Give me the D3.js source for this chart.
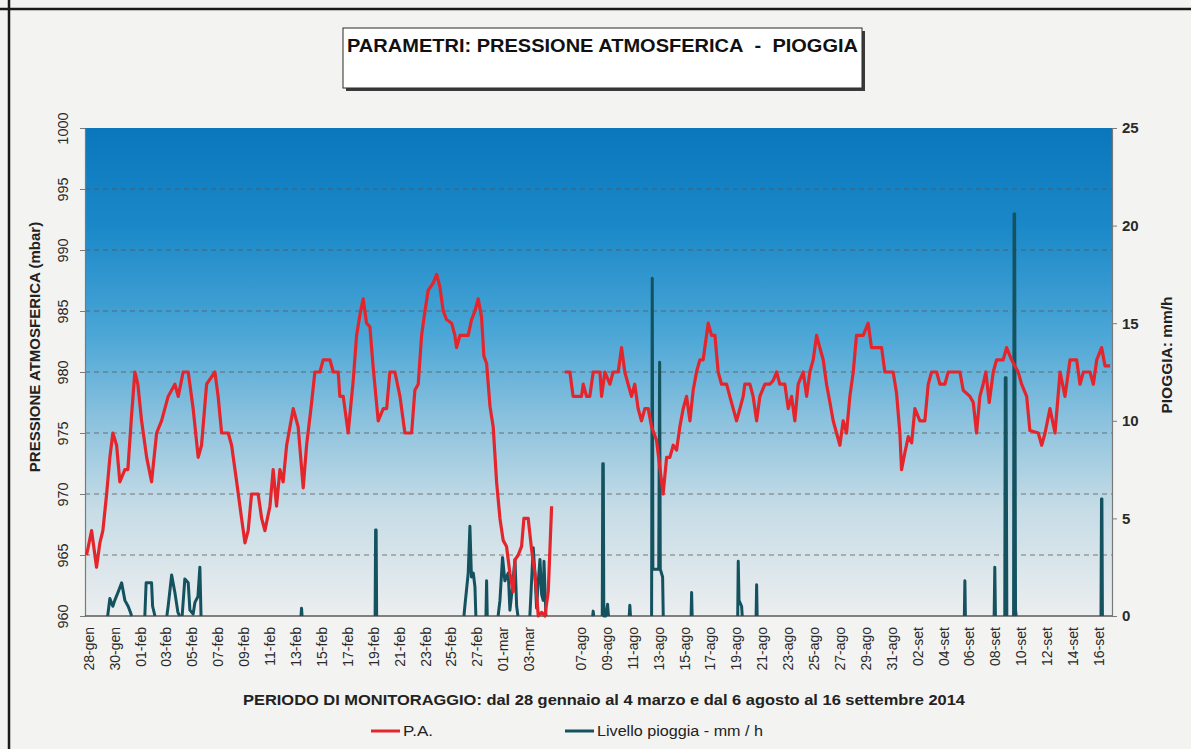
<!DOCTYPE html>
<html><head><meta charset="utf-8">
<script src="https://cdn.jsdelivr.net/npm/d3@7"></script>
<style>
body{margin:0;background:#f3f3f1;}
svg{display:block;font-family:Arial,"Liberation Sans",sans-serif;}
</style>
</head><body>
<svg id="chart" width="1191" height="749"></svg>
<script>
// ---------- DATA ----------
const chartTitle = "PARAMETRI: PRESSIONE ATMOSFERICA\u00a0\u00a0-\u00a0\u00a0PIOGGIA";
const xTitle = "PERIODO DI MONITORAGGIO: dal 28 gennaio al 4 marzo e dal 6 agosto al 16 settembre 2014";
const yLeftTitle = "PRESSIONE ATMOSFERICA (mbar)";
const yRightTitle = "PIOGGIA: mm/h";
const seriesNames = ["P.A.", "Livello pioggia - mm / h"];

const pressureTicks = [960, 965, 970, 975, 980, 985, 990, 995, 1000];
const rainTicks = [0, 5, 10, 15, 20, 25];

// tick labels: period 1 (every 2 days from 28-gen), period 2 (every 2 days from 07-ago)
const xLabelsFebMar = ["28-gen","30-gen","01-feb","03-feb","05-feb","07-feb","09-feb","11-feb","13-feb","15-feb","17-feb","19-feb","21-feb","23-feb","25-feb","27-feb","01-mar","03-mar"];
const xLabelsAgoSet = ["07-ago","09-ago","11-ago","13-ago","15-ago","17-ago","19-ago","21-ago","23-ago","25-ago","27-ago","29-ago","31-ago","02-set","04-set","06-set","08-set","10-set","12-set","14-set","16-set"];

// pressure [days from 28-gen 00:00, mbar]
const paFebMar = [[-0.18,965],[0.21,967],[0.59,964],[0.85,966],[1.08,967],[1.37,970],[1.62,973],[1.85,975],[2.14,974],[2.39,971],[2.78,972],[3.01,972],[3.30,976.5],[3.55,980],[3.78,979],[4.07,976],[4.46,973],[4.84,971],[5.23,975],[5.61,976],[6.12,978],[6.64,979],[6.90,978],[7.28,980],[7.67,980],[8.05,977],[8.44,973],[8.70,974],[9.09,979],[9.73,980],[9.98,978],[10.25,975],[10.76,975],[11.02,974],[11.41,971],[11.79,968],[12.05,966],[12.30,967],[12.56,970],[13.07,970],[13.34,968],[13.59,967],[13.98,969],[14.23,972],[14.49,969],[14.75,972],[15.00,971],[15.27,974],[15.78,977],[16.16,975.5],[16.55,970.5],[16.81,974],[17.20,977.5],[17.45,980],[17.84,980],[18.09,981],[18.61,981],[18.87,980],[19.25,980],[19.38,978],[19.64,978],[20.02,975],[20.41,979.3],[20.67,983],[20.93,984.7],[21.18,986],[21.44,984],[21.70,983.7],[21.95,980.4],[22.34,976],[22.73,977],[22.99,977],[23.24,980],[23.63,980],[24.02,978],[24.40,975],[24.92,975],[25.17,978.5],[25.43,979],[25.69,983],[25.95,985],[26.20,986.7],[26.59,987.3],[26.85,988],[27.10,987],[27.36,985],[27.62,984.3],[28.01,984],[28.26,983],[28.39,982],[28.65,983],[29.29,983],[29.55,984.3],[29.81,985],[30.06,986],[30.32,984.5],[30.50,981.3],[30.71,980.7],[30.97,977.2],[31.22,975.5],[31.48,971],[31.74,968],[31.99,966.2],[32.25,965.7],[32.51,963.5],[32.76,962],[32.90,964.6],[33.15,965],[33.41,965.7],[33.59,968],[33.92,968],[34.19,965.4],[34.44,963.5],[34.70,960],[34.96,960.3],[35.21,960],[35.47,962],[35.73,969]];

// pressure [days from 06-ago 00:00, mbar]
const paAgoSet = [[-0.25,980],[0.14,980],[0.39,978],[1.04,978],[1.17,979],[1.43,978],[1.68,978],[1.94,980],[2.46,980],[2.59,978],[2.84,980],[3.23,979],[3.48,980],[3.87,980],[4.13,982],[4.38,980],[4.64,979],[4.90,978],[5.15,979],[5.41,977],[5.67,976],[5.93,977],[6.19,977],[6.45,975.5],[6.83,974.4],[7.34,970],[7.61,973],[7.86,973],[8.12,974],[8.38,973.6],[8.63,975.5],[8.89,977],[9.15,978],[9.41,976],[9.66,978.5],[9.92,980],[10.18,981],[10.43,981],[10.82,984],[11.08,983],[11.34,983],[11.59,980],[11.85,979],[12.24,979],[12.49,978],[12.75,977],[13.01,976],[13.27,977],[13.52,978],[13.65,979],[14.04,979],[14.29,978],[14.56,976],[14.81,978],[15.20,979],[15.58,979],[15.84,979.3],[16.10,980],[16.35,979],[16.74,979],[17.00,977],[17.26,978],[17.51,976],[17.77,979],[18.16,980],[18.42,978],[18.67,980],[18.93,981],[19.19,983],[19.44,982],[19.70,981],[19.96,979],[20.22,977.5],[20.47,976],[20.73,975],[20.99,974],[21.24,976],[21.50,975],[21.76,978],[22.02,980],[22.27,983],[22.79,983],[23.17,984],[23.43,982],[24.21,982],[24.46,980],[25.10,980],[25.36,978.3],[25.62,975],[25.75,972],[26.01,973.4],[26.27,974.7],[26.53,974.2],[26.78,977],[27.17,976],[27.55,976],[27.81,979],[28.07,980],[28.46,980],[28.71,979],[29.10,979],[29.35,980],[30.26,980],[30.51,978.5],[31.03,978],[31.29,977.5],[31.54,975],[31.80,978],[32.05,979],[32.26,980],[32.52,977.5],[32.83,980],[33.09,981],[33.60,981],[33.86,982],[34.25,981],[34.50,980.5],[34.76,980],[35.02,979],[35.41,978],[35.66,975.2],[36.31,975],[36.57,974],[36.83,975],[37.21,977],[37.60,975],[37.99,980],[38.37,978],[38.76,981],[39.27,981],[39.53,979],[39.79,980],[40.30,980],[40.56,979],[40.82,981],[41.20,982],[41.46,980.5],[41.85,980.5]];

// rain [days from 28-gen, mm/h]; null = no line
const rainFebMar = [[1.45,0],[1.62,0.9],[1.85,0.5],[2.0,0.8],[2.24,1.2],[2.53,1.7],[2.78,0.8],[3.03,0.5],[3.2,0.2],[3.3,0],[3.35,null],
[4.32,0],[4.42,1.7],[4.84,1.7],[4.92,0.5],[5.1,0],[5.2,null],
[6.02,0],[6.12,0.5],[6.39,2.1],[6.64,1.2],[6.87,0.2],[7.0,0],[7.1,null],
[7.2,0],[7.41,1.9],[7.67,1.7],[7.8,0.3],[8.05,0.1],[8.19,0.7],[8.42,1.0],[8.57,2.5],[8.66,0],[8.7,null],
[16.38,0],[16.42,0.4],[16.46,0],[16.5,null],
[22.1,0],[22.14,4.4],[22.18,4.4],[22.22,0],[22.3,null],
[28.96,0],[29.03,0.5],[29.29,2.2],[29.42,4.6],[29.54,2.0],[29.68,2.2],[29.81,1.5],[29.88,0],[29.95,null],
[30.66,0],[30.71,1.8],[30.76,0],[30.8,null],
[31.6,0],[31.74,0.8],[31.94,3.0],[32.12,1.8],[32.38,2.2],[32.51,0.3],[32.66,1.2],[32.9,2.9],[33.03,0.5],[33.13,0],[33.2,null],
[34.05,0],[34.31,3.5],[34.44,2.2],[34.57,0.4],[34.67,1.5],[34.83,2.9],[34.96,1.1],[35.08,0.8],[35.14,2.8],[35.29,0]];

// rain [days from 06-ago, mm/h]
const rainAgoSet = [[1.9,0],[1.94,0.25],[1.98,0],[2.0,null],
[2.64,0],[2.68,7.8],[2.72,7.8],[2.76,0],[2.9,0],[3.05,0.6],[3.12,0],[3.2,null],
[4.72,0],[4.77,0.55],[4.82,0],[4.9,null],
[6.45,0],[6.50,17.3],[6.55,2.4],[7.0,2.4],[7.07,13.0],[7.12,2.4],[7.3,2.0],[7.35,0],[7.4,null],
[9.5,0],[9.54,1.2],[9.58,0],[9.6,null],
[13.1,0],[13.14,2.8],[13.2,0.8],[13.4,0.5],[13.45,0],[13.5,null],
[14.52,0],[14.56,1.6],[14.6,0],[14.7,null],
[30.6,0],[30.64,1.8],[30.68,0],[30.7,null],
[32.9,0],[32.95,2.5],[33.0,0],[33.1,null],
[33.72,0],[33.76,12.2],[33.82,12.2],[33.88,0],[33.95,null],
[34.40,0],[34.44,20.6],[34.48,20.6],[34.55,0.3],[34.6,0],[34.7,null],
[41.15,0],[41.19,6.0],[41.22,6.0],[41.26,0]];

const period2Offset = 37; // chart-day index of 06-ago (one blank day after 04-mar)

// ---------- CHART ----------
const svg = d3.select("#chart");
const W = 1191, H = 749;
const m = {left: 85, right: 1112, top: 128, bottom: 616};

// page frame (scanned sheet border)
svg.append("line").attr("x1",9).attr("x2",9).attr("y1",0).attr("y2",H).attr("stroke","#1a1a1a").attr("stroke-width",2.5);
svg.append("line").attr("x1",0).attr("x2",W).attr("y1",9).attr("y2",9).attr("stroke","#1a1a1a").attr("stroke-width",2.5);

const x = d3.scaleLinear().domain([-0.3, 79]).range([m.left, m.right]);
const yL = d3.scaleLinear().domain([960, 1000]).range([m.bottom, m.top]);
const yR = d3.scaleLinear().domain([0, 25]).range([m.bottom, m.top]);

// background gradient
const defs = svg.append("defs");
const grad = defs.append("linearGradient").attr("id","bg").attr("x1",0).attr("y1",0).attr("x2",0).attr("y2",1);
[[0,"#0a77bc"],[0.2,"#1a88c8"],[0.42,"#4aa6d6"],[0.6,"#8cc2de"],[0.78,"#c6dce6"],[1,"#eceeef"]]
  .forEach(([o,c]) => grad.append("stop").attr("offset",o).attr("stop-color",c));
svg.append("rect").attr("x",m.left).attr("y",m.top).attr("width",m.right-m.left).attr("height",m.bottom-m.top).attr("fill","url(#bg)");

// gridlines
svg.append("g").selectAll("line").data(pressureTicks.filter(d => d > 960 && d < 1000)).join("line")
  .attr("x1", m.left).attr("x2", m.right).attr("y1", d => yL(d)).attr("y2", d => yL(d))
  .attr("stroke","rgba(85,85,85,0.5)").attr("stroke-width",1.3).attr("stroke-dasharray","5,4");

// left axis
const gL = svg.append("g").attr("transform",`translate(${m.left},0)`)
  .call(d3.axisLeft(yL).tickValues(pressureTicks).tickFormat(d3.format("d")).tickSize(5).tickSizeOuter(0));
gL.select(".domain").attr("stroke","#7a7a7a").attr("stroke-width",1.2);
gL.selectAll(".tick line").attr("stroke","#7a7a7a");
gL.selectAll(".tick text").attr("x",0).attr("dy","0.35em").attr("text-anchor","middle")
  .attr("transform","translate(-22,0) rotate(-90)").attr("fill","#2a2a2a").style("font-size","14.5px");

// right axis
const gR = svg.append("g").attr("transform",`translate(${m.right},0)`)
  .call(d3.axisRight(yR).tickValues(rainTicks).tickSize(5).tickSizeOuter(0));
gR.select(".domain").attr("stroke","#7a7a7a").attr("stroke-width",1.2);
gR.selectAll(".tick line").attr("stroke","#7a7a7a");
gR.selectAll(".tick text").attr("x",10).attr("fill","#2a2a2a").style("font-size","15px").style("font-weight","bold");

// bottom axis line
svg.append("line").attr("x1",m.left).attr("x2",m.right).attr("y1",m.bottom).attr("y2",m.bottom).attr("stroke","#5a5a5a").attr("stroke-width",1.5);

// x labels
const xTickData = xLabelsFebMar.map((t,i) => ({t, d: i*2}))
  .concat(xLabelsAgoSet.map((t,i) => ({t, d: period2Offset + 1 + i*2})));
svg.append("g").selectAll("text").data(xTickData).join("text")
  .attr("transform", d => `translate(${x(d.d)},627) rotate(-90)`)
  .attr("text-anchor","end").attr("dy","0.35em")
  .attr("fill","#2a2a2a").style("font-size","14px").text(d => d.t);

// lines
const rainLine = d3.line().defined(d => d[1] !== null).x(d => x(d[0])).y(d => yR(d[1]));
const rainColor = "#14525f", paColor = "#e4262c";
svg.append("path").datum(rainFebMar).attr("d", rainLine).attr("fill","none").attr("stroke",rainColor).attr("stroke-width",3).attr("stroke-linejoin","round");
svg.append("path").datum(rainAgoSet.map(d => [d[0]+period2Offset, d[1]])).attr("d", rainLine).attr("fill","none").attr("stroke",rainColor).attr("stroke-width",3).attr("stroke-linejoin","round");

const paLine = d3.line().x(d => x(d[0])).y(d => yL(d[1]));
svg.append("path").datum(paFebMar).attr("d", paLine).attr("fill","none").attr("stroke",paColor).attr("stroke-width",3.2).attr("stroke-linejoin","round");
svg.append("path").datum(paAgoSet.map(d => [d[0]+period2Offset, d[1]])).attr("d", paLine).attr("fill","none").attr("stroke",paColor).attr("stroke-width",3.2).attr("stroke-linejoin","round");

// axis titles
svg.append("text").attr("transform","translate(35,347) rotate(-90)").attr("text-anchor","middle").attr("dy","0.35em")
  .style("font-size","15px").style("font-weight","bold").attr("fill","#222").text(yLeftTitle);
svg.append("text").attr("transform","translate(1167,355) rotate(-90)").attr("text-anchor","middle").attr("dy","0.35em")
  .style("font-size","15.5px").style("font-weight","bold").attr("fill","#222").text(yRightTitle);
svg.append("text").attr("x",243).attr("y",705).attr("textLength",722).attr("lengthAdjust","spacingAndGlyphs")
  .style("font-size","15px").style("font-weight","bold").attr("fill","#222").text(xTitle);

// title box
svg.append("rect").attr("x",346).attr("y",31).attr("width",519).attr("height",60).attr("fill","#3a3a3a");
svg.append("rect").attr("x",343).attr("y",28).attr("width",519).attr("height",60).attr("fill","#ffffff").attr("stroke","#2a2a2a").attr("stroke-width",1);
svg.append("text").attr("x",347).attr("y",52).attr("textLength",511).attr("lengthAdjust","spacingAndGlyphs")
  .style("font-size","18px").style("font-weight","bold").attr("fill","#111").text(chartTitle);

// legend
const legend = [{name: seriesNames[0], color: paColor, x: 371, tl: 30}, {name: seriesNames[1], color: rainColor, x: 565, tl: 166}];
const lg = svg.append("g").selectAll("g").data(legend).join("g");
lg.append("line").attr("x1", d => d.x).attr("x2", d => d.x + 29).attr("y1",731).attr("y2",731).attr("stroke", d => d.color).attr("stroke-width",3);
lg.append("text").attr("x", d => d.x + 32).attr("y",736).attr("textLength", d => d.tl).attr("lengthAdjust","spacingAndGlyphs")
  .style("font-size","14px").attr("fill","#222").text(d => d.name);
</script>
</body></html>
